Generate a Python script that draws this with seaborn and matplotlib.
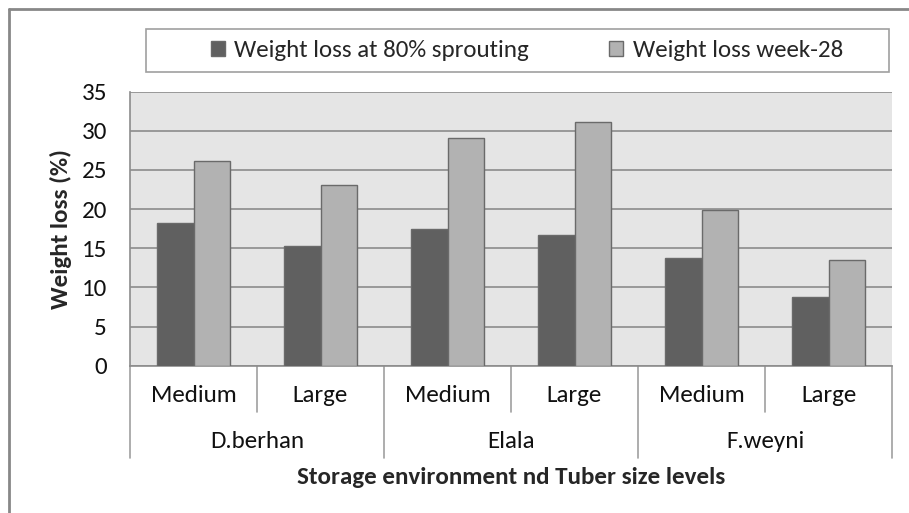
import pandas as pd
import matplotlib.pyplot as plt
import seaborn as sns
from matplotlib.lines import Line2D
from matplotlib.patches import Patch
import matplotlib.transforms as mtransforms

# Data
environments = ["D.berhan", "Elala", "F.weyni"]
sizes = ["Medium", "Large"]
loss_80_sprouting = [18.2, 15.3, 17.5, 16.7, 13.7, 8.8]
loss_week_28 = [26.2, 23.1, 29.1, 31.1, 19.9, 13.5]
series_names = ["Weight loss at 80% sprouting", "Weight loss week-28"]
yticks = [0, 5, 10, 15, 20, 25, 30, 35]

cats = [f"{e} {s}" for e in environments for s in sizes]
df = pd.DataFrame({
    "cat": cats * 2,
    "value": loss_80_sprouting + loss_week_28,
    "series": [series_names[0]] * 6 + [series_names[1]] * 6,
})

sns.set_style("white")
plt.rcParams["font.family"] = ["Carlito", "Liberation Sans Narrow", "DejaVu Sans"]

dark, light = "#606060", "#b2b2b2"
gridc = "#8c8c8c"
fs = 18

fig = plt.figure(figsize=(9.09, 5.13), dpi=100)
W, H = 909, 513
ax = fig.add_axes([130 / W, 1 - 365.7 / H, (892 - 130) / W, (365.7 - 91.7) / H])

sns.barplot(data=df, x="cat", y="value", hue="series", order=cats,
            hue_order=series_names, palette=[dark, light], width=0.575,
            edgecolor="#6a6a6a", linewidth=1.0, ax=ax, legend=False, zorder=3)

ax.set_facecolor("#e5e5e5")
ax.set_ylim(0, 35)
ax.set_xlim(-0.5, len(cats) - 0.5)
ax.set_yticks(yticks)
ax.yaxis.grid(True, color=gridc, linewidth=1.2)
ax.set_axisbelow(True)
ax.tick_params(axis="y", length=6.5, width=1, color=gridc, labelsize=fs, pad=10,
               labelcolor="#111111")
ax.tick_params(axis="x", length=0)
ax.set_xticks([])
ax.set_xlabel("")
ax.set_ylabel("Weight loss (%)", fontsize=fs, fontweight="bold", labelpad=7)
for side in ["top", "right"]:
    ax.spines[side].set_visible(False)
for side in ["left", "bottom"]:
    ax.spines[side].set_color(gridc)
    ax.spines[side].set_linewidth(1.2)

# hierarchical x-axis labels
trans = mtransforms.blended_transform_factory(ax.transData, fig.transFigure)
def fy(py):
    return 1 - py / H

for i, c in enumerate(cats):
    ax.text(i, fy(396), c.split(" ")[1], transform=trans, ha="center",
            va="center", fontsize=fs, color="#111111")
for j, e in enumerate(environments):
    ax.text(2 * j + 0.5, fy(442), e, transform=trans, ha="center",
            va="center", fontsize=fs, color="#111111")
# separators
for k in range(len(cats) + 1):
    x = k - 0.5
    bottom = 458 if k % 2 == 0 else 412
    ax.add_line(Line2D([x, x], [fy(365.7), fy(bottom)], transform=trans,
                       color="#a0a0a0", linewidth=1.2, clip_on=False))

fig.text(511 / W, fy(477), "Storage environment nd Tuber size levels",
         ha="center", va="center", fontsize=fs, fontweight="bold")

# legend frame and entries
fig.add_artist(plt.Rectangle((146 / W, fy(72)), (889 - 146) / W, (72 - 29) / H,
                             transform=fig.transFigure, fill=False,
                             edgecolor="#a0a0a0", linewidth=1.2))
handles = [Patch(facecolor=dark, edgecolor="#6a6a6a"),
           Patch(facecolor=light, edgecolor="#6a6a6a")]
fig.legend(handles, series_names, loc="center", bbox_to_anchor=(527 / W, fy(50.5)),
           ncol=2, frameon=False, fontsize=fs, handlelength=0.55, handleheight=0.55,
           handletextpad=0.4, columnspacing=3.2)

# outer chart border
fig.add_artist(Line2D([9 / W, 9 / W], [fy(9), 0], transform=fig.transFigure,
                      color="#888888", linewidth=2))
fig.add_artist(Line2D([9 / W, 1], [fy(9), fy(9)], transform=fig.transFigure,
                      color="#888888", linewidth=2))

fig.savefig("out.png", dpi=100)
